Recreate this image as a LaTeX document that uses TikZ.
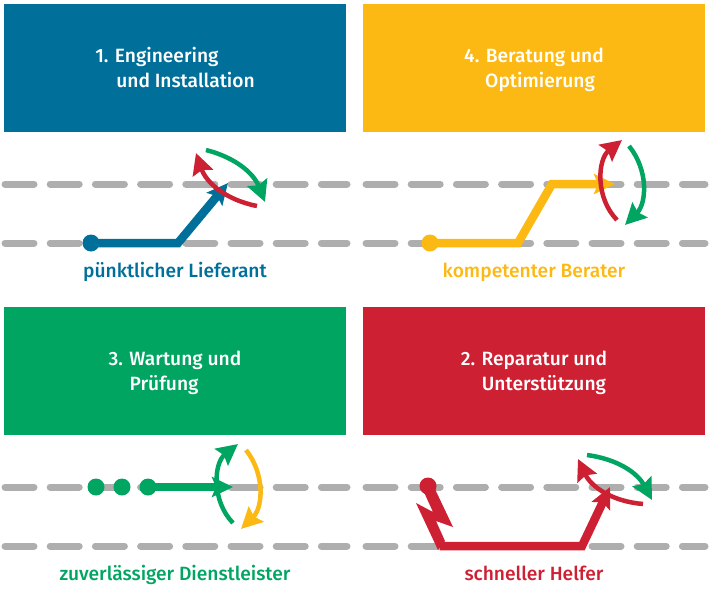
\documentclass[tikz,border=0pt]{standalone}
\usepackage{fontspec}
\setsansfont{Fira Sans Medium}
\usetikzlibrary{arrows.meta}
\definecolor{kblue}{HTML}{006F9A}
\definecolor{kyellow}{HTML}{FDB913}
\definecolor{kgreen}{HTML}{00A562}
\definecolor{kred}{HTML}{CE2033}
\definecolor{kgrey}{HTML}{AEAEAE}
\newcommand{\boxtitle}[2]{\rule[-4.5pt]{0pt}{22pt}#1\\\hspace*{21pt}\rule[-4.5pt]{0pt}{22pt}#2}
\tikzset{
  titlebox/.style={minimum width=342pt,minimum height=128pt,inner sep=0pt,align=left,text=white,font=\sffamily\fontsize{19.2}{25}\selectfont},
  caption/.style={text height=14pt,text depth=5pt,font=\sffamily\fontsize{19.2}{22}\selectfont},
  lane/.style={kgrey,line width=7pt,line cap=round,dash pattern=on 29pt off 16.2pt},
  route/.style={line width=8.5pt,miter limit=10,-{Stealth[length=21pt,width=20pt,inset=4pt]}},
  turn/.style={line width=4.5pt,-{Stealth[length=21pt,width=21pt,inset=3pt]}},
  stop/.style={circle,minimum size=17pt,inner sep=0pt}
}
\begin{document}
\begin{tikzpicture}[x=1pt,y=-1pt]
  \useasboundingbox (0,0) rectangle (709,589);
  % lanes
  \foreach \laneY in {184,243,487,546} {
    \coordinate (l\laneY) at (5,\laneY);
    \coordinate (r\laneY) at (347,\laneY);
    \coordinate (s\laneY) at (366,\laneY);
    \coordinate (e\laneY) at (705,\laneY);
    \draw[lane] (l\laneY) -- (r\laneY);
    \draw[lane] (s\laneY) -- (e\laneY);
  }
  % boxes
  \node (engineering) [titlebox,fill=kblue] at (175,68) {\boxtitle{1. Engineering}{und Installation}};
  \node (beratung) [titlebox,fill=kyellow] at (534,68) {\boxtitle{4. Beratung und}{Optimierung}};
  \node (wartung) [titlebox,fill=kgreen] at (175,371) {\boxtitle{3. Wartung und}{Prüfung}};
  \node (reparatur) [titlebox,fill=kred] at (534,371) {\boxtitle{2. Reparatur und}{Unterstützung}};
  % captions
  \node (lieferant) [caption,text=kblue] at (175,272.5) {pünktlicher Lieferant};
  \node (berater) [caption,text=kyellow] at (534,272.5) {kompetenter Berater};
  \node (dienst) [caption,text=kgreen] at (175,575.5) {zuverlässiger Dienstleister};
  \node (helfer) [caption,text=kred] at (534,575.5) {schneller Helfer};
  % blue
  \node (b0) [stop,fill=kblue] at (91,243) {};
  \coordinate (b1) at (178,243);
  \coordinate (b2) at (228,183);
  \draw[route,kblue] (b0.center) -- (b1) -- (b2);
  \coordinate (bg0) at (206,150);
  \coordinate (bg1) at (265,202);
  \coordinate (br0) at (257,206);
  \coordinate (br1) at (196,153);
  \draw[turn,kgreen] (bg0) to[bend left=27] (bg1);
  \draw[turn,kred] (br0) to[bend left=30] (br1);
  % yellow
  \node (y0) [stop,fill=kyellow] at (430,243) {};
  \coordinate (y1) at (518,243);
  \coordinate (y2) at (552,184);
  \coordinate (y3) at (615,184);
  \draw[route,kyellow] (y0.center) -- (y1) -- (y2) -- (y3);
  \coordinate (yr0) at (617,220);
  \coordinate (yr1) at (622,140);
  \coordinate (yg0) at (629,146);
  \coordinate (yg1) at (625,225);
  \draw[turn,kred] (yr0) to[bend left=48] (yr1);
  \draw[turn,kgreen] (yg0) to[bend left=42] (yg1);
  % green
  \node (g0) [stop,fill=kgreen] at (96,487) {};
  \node (g1) [stop,fill=kgreen] at (122,487) {};
  \node (g2) [stop,fill=kgreen] at (148,487) {};
  \coordinate (g3) at (233,487);
  \draw[route,kgreen] (g2.center) -- (g3);
  \coordinate (gg0) at (233,523);
  \coordinate (gg1) at (238,444);
  \coordinate (gy0) at (246,450);
  \coordinate (gy1) at (241,529);
  \draw[turn,kgreen] (gg0) to[bend left=48] (gg1);
  \draw[turn,kyellow] (gy0) to[bend left=42] (gy1);
  % red
  \node (r0) [stop,fill=kred] at (428,486) {};
  \coordinate (r3) at (440,546);
  \coordinate (r4) at (582,546);
  \coordinate (r5) at (610,487);
  \fill[kred] (423,490) -- (433,512) -- (416,503) -- (438,550) -- (445,541) -- (436,521) -- (453,527) -- (434,487) -- cycle;
  \draw[route,kred] (r3) -- (r4) -- (r5);
  \coordinate (rg0) at (587,455);
  \coordinate (rg1) at (652,500);
  \coordinate (rr0) at (643,504);
  \coordinate (rr1) at (578,459);
  \draw[turn,kgreen] (rg0) to[bend left=27] (rg1);
  \draw[turn,kred] (rr0) to[bend left=30] (rr1);
\end{tikzpicture}
\end{document}
